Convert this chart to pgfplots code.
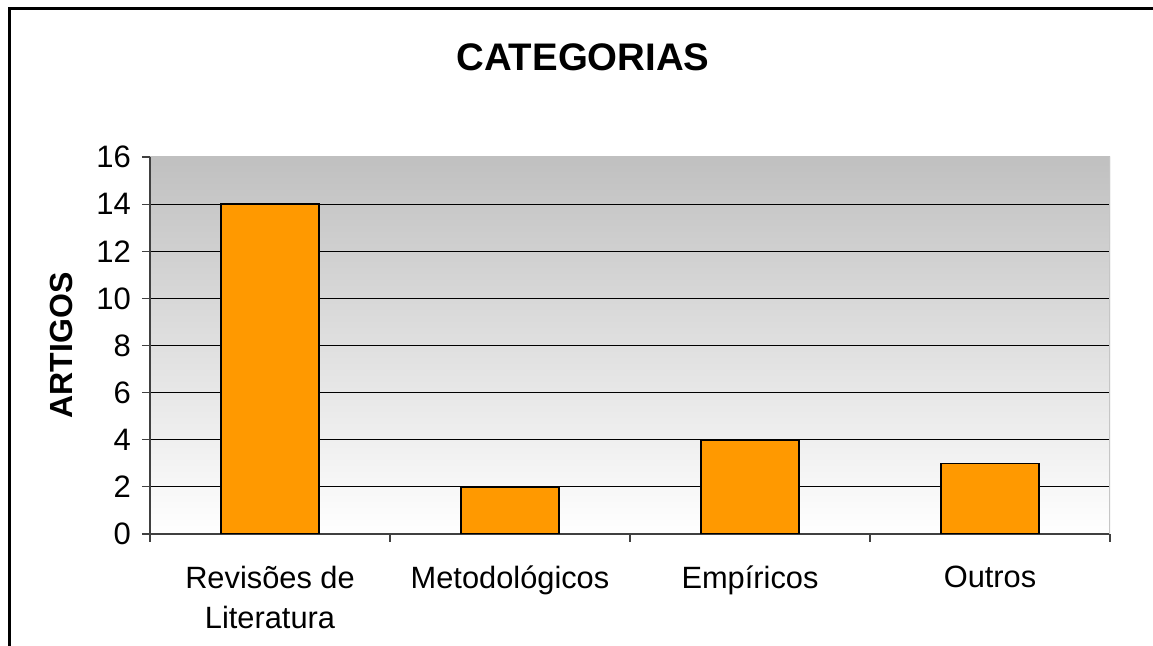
\documentclass[border=0pt]{standalone}
\usepackage{fontspec}
\setmainfont{Liberation Sans}
\usepackage{pgfplots}
\pgfplotsset{compat=1.18}
\definecolor{barorange}{HTML}{FF9900}
\definecolor{bgtop}{HTML}{C0C0C0}
\begin{document}
\begin{tikzpicture}
\useasboundingbox (0,0) rectangle (576.5pt,323pt);
\draw[line width=1.5pt] (4.6pt,0) -- (4.6pt,318.8pt) -- (576.5pt,318.8pt);
\begin{axis}[
  at={(75pt,56pt)}, anchor=south west,
  scale only axis, width=480pt, height=188.5pt,
  xmin=0, xmax=4, ymin=0, ymax=16,
  axis x line=bottom, axis y line=left,
  axis line style={black!75, line width=0.6pt, -},
  xtick={0,1,2,3,4},
  xticklabels={{Revisões de\\Literatura},Metodológicos,Empíricos,Outros},
  x tick label as interval,
  xticklabel style={align=center, font=\fontsize{15.4}{20}\selectfont, yshift=-8.5pt},
  ytick={0,2,...,14},
  extra y ticks={16},
  extra y tick style={grid=none},
  yticklabel style={font=\fontsize{15.5}{18}\selectfont, xshift=-2pt},
  /pgf/number format/assume math mode=true,
  tick align=outside,
  major tick length=4pt,
  tick style={black!75, line width=0.6pt},
  ymajorgrids,
  grid style={black, line width=0.5pt},
  axis background/.style={top color=bgtop, bottom color=white},
  title={CATEGORIAS},
  title style={at={(axis description cs:0.451,1.233)}, anchor=center, font=\fontsize{19.2}{22}\selectfont\bfseries},
  ylabel={ARTIGOS},
  every axis y label/.style={at={(axis description cs:-0.0917,0.5)}, rotate=90, anchor=center, font=\fontsize{16}{18}\selectfont\bfseries},
  ybar, bar width=49pt,
]
\addplot[fill=barorange, draw=black, line width=0.8pt] coordinates {(0.5,14) (1.5,2) (2.5,4) (3.5,3)};
\draw[gray!45, line width=0.8pt] (rel axis cs:1,0) -- (rel axis cs:1,1);
\end{axis}
\end{tikzpicture}
\end{document}
